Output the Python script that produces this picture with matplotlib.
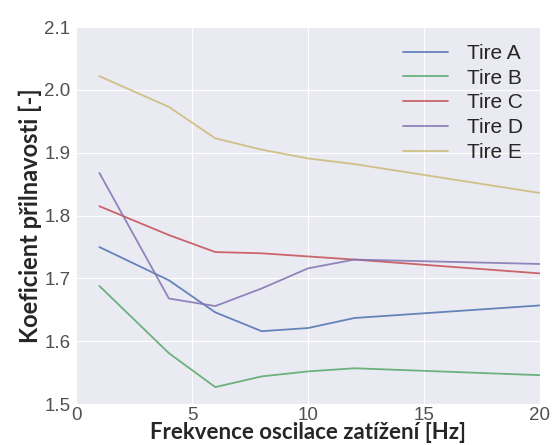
import matplotlib
matplotlib.use("Agg")
import matplotlib.pyplot as plt
import seaborn as sns

sns.set_style("darkgrid")
plt.rcParams['font.family'] = ['Liberation Sans', 'DejaVu Sans']

freq = [1, 4, 6, 8, 10, 12, 20]
tire_a = [1.750, 1.697, 1.646, 1.616, 1.621, 1.637, 1.657]
tire_b = [1.688, 1.581, 1.527, 1.544, 1.552, 1.557, 1.546]
tire_c = [1.815, 1.769, 1.742, 1.740, 1.735, 1.730, 1.708]
tire_d = [1.868, 1.668, 1.656, 1.684, 1.716, 1.730, 1.723]
tire_e = [2.022, 1.973, 1.923, 1.905, 1.891, 1.882, 1.836]
labels = ['Tire A', 'Tire B', 'Tire C', 'Tire D', 'Tire E']
colors = ['#4C72B0', '#55A868', '#C44E52', '#8172B2', '#CCB974']

fig = plt.figure(figsize=(5.52, 4.45), dpi=100)
ax = fig.add_axes([0.138, 0.092, 0.84, 0.847])

for y, lab, c in zip([tire_a, tire_b, tire_c, tire_d, tire_e], labels, colors):
    ax.plot(freq, y, color=c, lw=1.3, alpha=0.85, label=lab)

ax.set_xlim(0, 20)
ax.set_ylim(1.5, 2.1)
ax.set_xticks([0, 5, 10, 15, 20])
ax.set_yticks([1.5, 1.6, 1.7, 1.8, 1.9, 2.0, 2.1])
ax.set_yticklabels(['1.5', '1.6', '1.7', '1.8', '1.9', '2.0', '2.1'])
ax.tick_params(axis='both', labelsize=13.5, labelcolor='#505050', length=0)
ax.tick_params(axis='y', pad=4)
ax.tick_params(axis='x', pad=2)

ax.set_xlabel('Frekvence oscilace zatížení [Hz]', fontsize=16, fontweight='bold',
              family=['Lato', 'DejaVu Sans'], labelpad=-1)
ax.set_ylabel('Koeficient přilnavosti [-]', fontsize=17, fontweight='bold',
              family=['Lato', 'DejaVu Sans'], labelpad=2)

ax.legend(loc='upper right', frameon=False, fontsize=15, handlelength=2.2,
          handletextpad=0.9, labelspacing=0.28, borderaxespad=0.4)

fig.savefig('out.png', dpi=100)
